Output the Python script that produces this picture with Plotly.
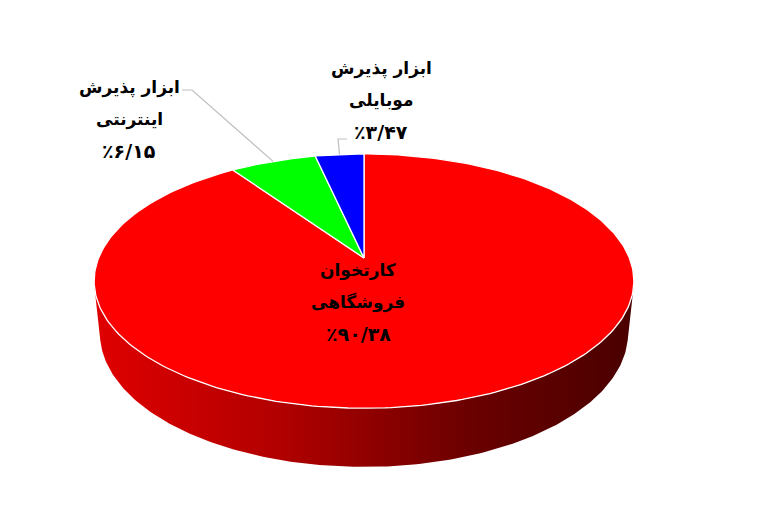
import numpy as np
import plotly.graph_objects as go

# slices, clockwise from 12 o'clock
labels = ["کارتخوان فروشگاهی", "ابزار پذیرش اینترنتی", "ابزار پذیرش موبایلی"]
label_lines = [["کارتخوان", "فروشگاهی"], ["ابزار پذیرش", "اینترنتی"], ["ابزار پذیرش", "موبایلی"]]
values = [90.38, 6.15, 3.47]
colors = ["#FF0000", "#00FF00", "#0000FF"]

W, H = 768, 513
PAD = 8  # page body margin

# 3d view of the disc (pixel space)
cx, cy = 364, 258
elev = np.radians(27.6)
s, c = np.sin(elev), np.cos(elev)
D = 4.88
f = 1295
h = 0.223


def project(X, Y, Z):
	d = D + Y * c - Z * s
	return cx + f * X / d, cy - f * (Y * s + Z * c) / d


def persian(txt):
	return txt.translate(str.maketrans("0123456789.", "۰۱۲۳۴۵۶۷۸۹/"))


total = sum(values)
bounds = np.concatenate([[0], np.cumsum(values) / total * 360])

# rim faces the viewer only on the front part
vis = np.degrees(np.arccos(-1 / (D * c)))
vis0, vis1 = vis, 360 - vis

fig = go.Figure()

# sides
for i in range(len(values)):
	a0, a1 = max(bounds[i], vis0), min(bounds[i + 1], vis1)
	if a1 <= a0:
		continue
	t = np.radians(np.linspace(a0, a1, 200))
	xt, yt = project(np.sin(t), np.cos(t), 0)
	xb, yb = project(np.sin(t), np.cos(t), -h)
	fig.add_trace(go.Scatter(
		x=np.concatenate([xt, xb[::-1]]), y=np.concatenate([yt, yb[::-1]]),
		mode="lines", fill="toself", line=dict(width=0, color="#800000"),
		fillgradient=dict(type="horizontal", colorscale=[
			[0, "#e00000"], [0.35, "#b00000"], [0.7, "#6a0000"], [1, "#4a0000"]]),
		hoverinfo="skip"))

# top face
for i in range(len(values)):
	t = np.radians(np.linspace(bounds[i], bounds[i + 1], 300))
	xa, ya = project(np.sin(t), np.cos(t), 0)
	fig.add_trace(go.Scatter(
		x=np.concatenate([[cx], xa, [cx]]), y=np.concatenate([[cy], ya, [cy]]),
		mode="lines", fill="toself", fillcolor=colors[i],
		line=dict(color="white", width=1.3), hoverinfo="skip"))

# labels
label_pos = [(358, 270), (129, 87), (381, 68)]
gap = 32
for i in range(len(values)):
	lx, ly = label_pos[i]
	lines = label_lines[i] + ["٪" + persian(f"{values[i]:.2f}")]
	for j, txt in enumerate(lines):
		fig.add_annotation(x=lx, y=ly + j * gap, text="<b>" + txt + "</b>", showarrow=False,
			font=dict(family="DejaVu Sans", size=19 if j == 2 else 17, color="black"),
			xanchor="center", yanchor="middle")

# leader lines to the small slices
elbows = {1: [(182, 90), (192, 90)], 2: [(347, 139), (338, 139)]}
for i, pts in elbows.items():
	mid = np.radians((bounds[i] + bounds[i + 1]) / 2)
	ex, ey = project(np.sin(mid), np.cos(mid), 0)
	fig.add_trace(go.Scatter(
		x=[p[0] for p in pts] + [ex], y=[p[1] for p in pts] + [ey],
		mode="lines", line=dict(color="#BFBFBF", width=1.2), hoverinfo="skip"))

fig.update_xaxes(range=[PAD, W + PAD], visible=False)
fig.update_yaxes(range=[H + PAD, PAD], visible=False)
fig.update_layout(width=W, height=H, margin=dict(l=0, r=0, t=0, b=0),
	plot_bgcolor="white", paper_bgcolor="white", showlegend=False)
fig.write_html("out.html")
